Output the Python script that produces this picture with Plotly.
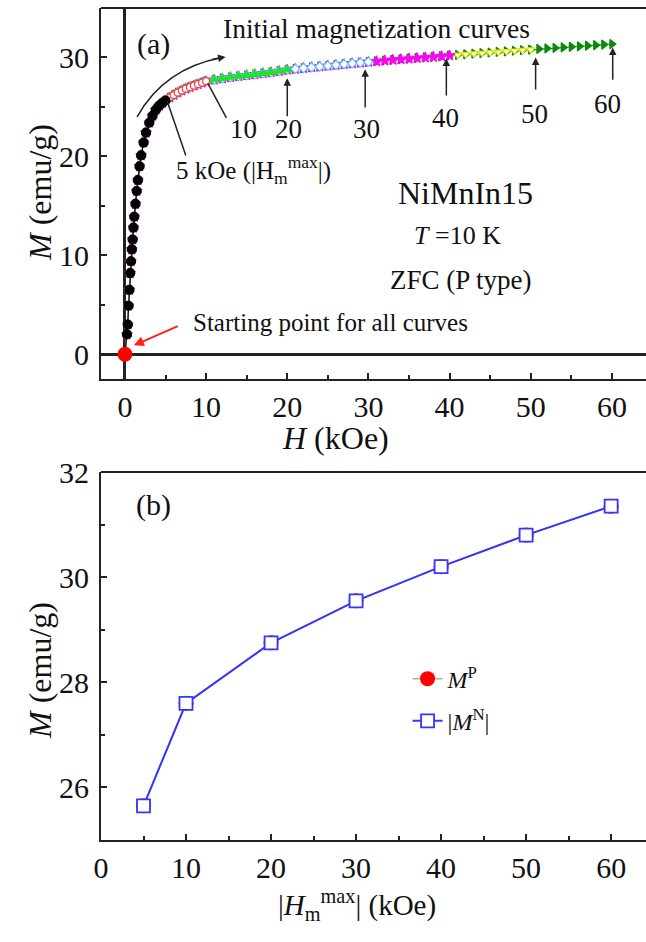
import plotly.graph_objects as go

# ---------------- data ----------------
# initial magnetization branch, low-field part (H in kOe, M in emu/g)
H_LOW = [0, 0.25, 0.35, 0.45, 0.55, 0.65, 0.75, 0.85, 0.95, 1.05, 1.15, 1.3,
         1.45, 1.6, 1.8, 2.0, 2.3, 2.6, 3.0, 3.4, 3.8, 4.2, 4.6, 5.0]
M_LOW = [0, 2.0, 3.0, 4.9, 6.5, 8.2, 9.4, 10.6, 11.6, 12.8, 13.9, 15.2,
         16.5, 17.6, 19.0, 20.1, 21.4, 22.4, 23.4, 24.1, 24.7, 25.1, 25.4, 25.65]

# high-field part
H_HIGH = [5.5, 6, 6.5, 7, 7.5, 8, 8.5, 9, 9.5, 10,
          11, 12, 13, 14, 15, 16, 17, 18, 19, 20,
          21, 22, 23, 24, 25, 26, 27, 28, 29, 30,
          31, 32, 33, 34, 35, 36, 37, 38, 39, 40,
          41, 42, 43, 44, 45, 46, 47, 48, 49, 50,
          51, 52, 53, 54, 55, 56, 57, 58, 59, 60]
M_HIGH = [25.95, 26.2, 26.45, 26.65, 26.85, 27.0, 27.15, 27.3, 27.45, 27.6,
          27.75, 27.88, 28.0, 28.1, 28.2, 28.3, 28.4, 28.5, 28.62, 28.75,
          28.84, 28.92, 29.0, 29.08, 29.16, 29.24, 29.32, 29.4, 29.47, 29.55,
          29.62, 29.69, 29.76, 29.82, 29.88, 29.94, 30.0, 30.06, 30.13, 30.2,
          30.26, 30.32, 30.38, 30.44, 30.5, 30.56, 30.62, 30.68, 30.74, 30.8,
          30.86, 30.91, 30.97, 31.02, 31.08, 31.13, 31.19, 31.24, 31.3, 31.35]

# maximum field of each initial curve and its style
HMAX = [5, 10, 20, 30, 40, 50, 60]
CURVE_COLORS = ["#000000", "#ff3b3b", "#1ee61e", "#55c8ff", "#ff00ff", "#e6e600", "#0a8a0a"]
CURVE_SYMBOLS = ["circle", "circle", "triangle-up", "diamond",
                 "star", "triangle-down", "triangle-right"]
CURVE_FILLS = ["#000000", "white", "#1ee61e", "white", "#ff00ff", "white", "#0a8a0a"]
CURVE_SIZES = [9, 7, 8, 7, 8, 7, 8]

# magnetization at |Hm^max| for the positive and negative branches
M_P = [25.65, 27.6, 28.75, 29.55, 30.2, 30.8, 31.35]
M_N_ABS = [25.65, 27.6, 28.75, 29.55, 30.2, 30.8, 31.35]

FONT = "Liberation Serif, Times New Roman, serif"
TICK_SIZE = 30

H_ALL = H_LOW + H_HIGH
M_ALL = M_LOW + M_HIGH

fig = go.Figure()

# panel (a): every curve starts at the origin; the longest one is drawn first
# so the shorter ones stay on top
styles = list(zip(HMAX, CURVE_COLORS, CURVE_SYMBOLS, CURVE_FILLS, CURVE_SIZES))
for hmax, col, sym, fill, size in reversed(styles):
    hs = [h for h in H_ALL if h <= hmax]
    ms = [m for h, m in zip(H_ALL, M_ALL) if h <= hmax]
    fig.add_trace(go.Scatter(
        x=hs, y=ms, mode="lines+markers", xaxis="x", yaxis="y",
        line=dict(color=col, width=1),
        marker=dict(symbol=sym, size=size, color=fill,
                    line=dict(color=col, width=1.2)),
        showlegend=False, hoverinfo="skip"))

# common starting point
fig.add_trace(go.Scatter(x=[H_LOW[0]], y=[M_LOW[0]], mode="markers", xaxis="x", yaxis="y",
                         marker=dict(color="#ff0000", size=15), showlegend=False))

# panel (b)
fig.add_trace(go.Scatter(
    x=HMAX, y=M_P, mode="lines+markers", xaxis="x2", yaxis="y2",
    name="<i>M</i><sup>P</sup>", legendgroup="p",
    line=dict(color="#b8b870", width=1.5),
    marker=dict(symbol="circle", size=15, color="#ff0000")))
fig.add_trace(go.Scatter(
    x=HMAX, y=M_N_ABS, mode="lines+markers", xaxis="x2", yaxis="y2",
    name="|<i>M</i><sup>N</sup>|", legendgroup="n",
    line=dict(color="#3535ff", width=2),
    marker=dict(symbol="square", size=13, color="white",
                line=dict(color="#3535ff", width=1.8))))

axis_common = dict(
    showline=True, linecolor="#222", linewidth=2, ticks="inside", ticklen=6,
    tickwidth=1.5, tickcolor="#222", showgrid=False, zeroline=False,
    tickfont=dict(family=FONT, size=TICK_SIZE, color="#111"),
    minor=dict(ticks="inside", ticklen=4, tickwidth=1.5, tickcolor="#222"),
)

fig.update_layout(
    width=646, height=942,
    margin=dict(l=101, r=0, t=0, b=0, autoexpand=False),
    paper_bgcolor="white", plot_bgcolor="white",
    font=dict(family=FONT, color="#111"),
    xaxis=dict(axis_common, domain=[0, 1], range=[-2.95, 64.2], anchor="y",
               dtick=10, minor_dtick=5,
               zeroline=True, zerolinecolor="#222", zerolinewidth=3),
    yaxis=dict(axis_common, domain=[0.5977, 0.9915], range=[-2.5, 35], anchor="x",
               dtick=10, minor_dtick=5, ticklabelstandoff=4,
               zeroline=True, zerolinecolor="#222", zerolinewidth=3),
    xaxis2=dict(axis_common, domain=[0, 1], range=[0, 64.1], anchor="y2",
                dtick=10, minor_dtick=5),
    yaxis2=dict(axis_common, domain=[0.1083, 0.4989], range=[25, 32], anchor="x2",
                dtick=2, minor_dtick=1, ticklabelstandoff=4),
    legend=dict(x=0.5625, y=0.303, xanchor="left", yanchor="top",
                bgcolor="rgba(0,0,0,0)", font=dict(family=FONT, size=24),
                tracegroupgap=8),
    showlegend=True,
)

# top border of each panel
for xr, yr in (("x domain", "y domain"), ("x2 domain", "y2 domain")):
    fig.add_shape(type="line", xref=xr, yref=yr, x0=0, x1=1, y0=1, y1=1,
                  line=dict(color="#222", width=2))

# curved arrow over the initial curve
fig.add_shape(type="path", xref="x", yref="y",
              path="M 1.5,24.0 Q 4.8,28.9 12.0,30.0",
              line=dict(color="#222", width=1.5))

anns = []


def txt(x, y, s, size, xref="x", yref="y", **kw):
    anns.append(dict(x=x, y=y, xref=xref, yref=yref, text=s, showarrow=False,
                     font=dict(family=FONT, size=size, color="#111"), **kw))


def arrow(x, y, ax, ay, color="#222", head=2, width=1.5, xref="x", yref="y"):
    anns.append(dict(x=x, y=y, ax=ax, ay=ay, xref=xref, yref=yref,
                     axref=xref, ayref=yref, text="", showarrow=True,
                     arrowhead=head, arrowsize=1, arrowwidth=width,
                     arrowcolor=color, standoff=0, startstandoff=0))


arrow(12.4, 30.05, 10.6, 29.8)

txt(3.5, 31.4, "(a)", 30)
txt(31.0, 32.9, "Initial magnetization curves", 27.5)
txt(15.9, 18.6, "5 kOe (|H<sub>m</sub><sup>max</sup>|)", 25)

# field labels and pointers
txt(14.6, 22.8, "10", 27)
txt(20.1, 22.8, "20", 27)
txt(29.8, 22.8, "30", 27)
txt(39.5, 23.9, "40", 27)
txt(50.5, 24.3, "50", 27)
txt(59.5, 25.3, "60", 27)
fig.add_shape(type="line", xref="x", yref="y", x0=7.5, y0=20.1, x1=5.2, y1=25.6,
              line=dict(color="#222", width=1.5))
fig.add_shape(type="line", xref="x", yref="y", x0=12.5, y0=23.9, x1=10.2, y1=27.4,
              line=dict(color="#222", width=1.5))
arrow(20.0, 27.9, 20.0, 23.9)
arrow(29.6, 28.8, 29.6, 24.8)
arrow(39.6, 29.9, 39.6, 26.0)
arrow(50.6, 30.0, 50.6, 26.6)
arrow(60.1, 31.0, 60.1, 27.6)

# starting point
arrow(1.1, 0.9, 6.7, 2.9, color="#ff2020", head=2, width=2)
txt(8.1, 3.2, "Starting point for all curves", 25, xanchor="left")

txt(41.9, 16.3, "NiMnIn15", 32)
txt(41.0, 12.0, "<i>T</i> =10 K", 26)
txt(41.4, 7.5, "ZFC (P type)", 27)

# panel (b)
txt(6.2, 31.37, "(b)", 30, xref="x2", yref="y2")

# axis titles
CM = dict(xanchor="center", yanchor="middle")
txt(0.43, 1 - 438 / 942, "<i>H</i> (kOe)", 32, xref="paper", yref="paper", **CM)
txt(-0.112, 1 - 192 / 942, "<i>M</i> (emu/g)", 32, xref="paper", yref="paper",
    textangle=-90, **CM)
txt(0.47, 1 - 905 / 942, "|<i>H</i><sub>m</sub><sup>max</sup>| (kOe)", 29,
    xref="paper", yref="paper", **CM)
txt(-0.112, 1 - 670 / 942, "<i>M</i> (emu/g)", 32, xref="paper", yref="paper",
    textangle=-90, **CM)

fig.update_layout(annotations=anns)

fig.write_html("out.html")
